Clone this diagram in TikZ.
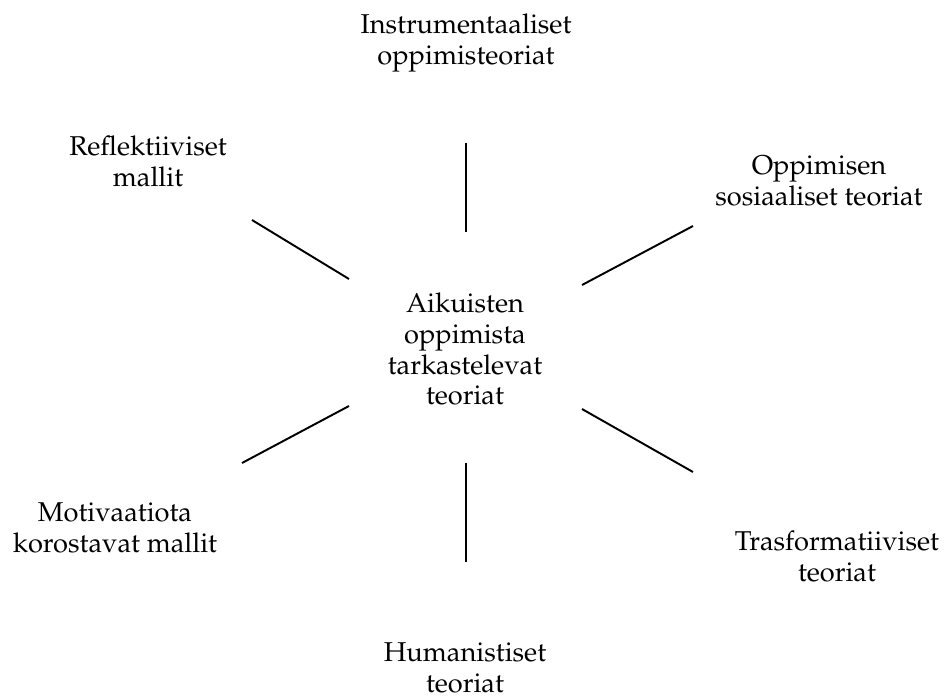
\documentclass[tikz,border=0pt]{standalone}
\usepackage[T1]{fontenc}
\usepackage{mathpazo}
\begin{document}
\begin{tikzpicture}[x=0.02cm,y=-0.02cm,
    label/.style={align=center,inner sep=0pt,font=\fontsize{15.5}{17.6}\selectfont},
    spoke/.style={line width=1.1pt}]
\useasboundingbox (0,0) rectangle (948,697);
% theory nodes
\node[label] (core) at (465,349) {Aikuisten\\oppimista\\tarkastelevat\\teoriat};
\node[label] (instr) at (466,43) {Instrumentaaliset\\oppimisteoriat};
\node[label] (refl) at (148,161) {Reflektiiviset\\mallit};
\node[label] (soc) at (819,181) {Oppimisen\\sosiaaliset teoriat};
\node[label] (motiv) at (115,528) {Motivaatiota\\korostavat mallit};
\node[label] (trans) at (837,556) {Trasformatiiviset\\teoriat};
\node[label] (hum) at (465,668) {Humanistiset\\teoriat};
% spoke end points
\coordinate (instrA) at (466,143); \coordinate (instrB) at (466,232);
\coordinate (reflA) at (252,220);  \coordinate (reflB) at (349,279);
\coordinate (socA) at (693,226);   \coordinate (socB) at (582,285);
\coordinate (motivA) at (242,463); \coordinate (motivB) at (349,406);
\coordinate (transA) at (693,472); \coordinate (transB) at (582,409);
\coordinate (humA) at (466,562);   \coordinate (humB) at (466,463);
% spokes
\draw[spoke] (instrA) -- (instrB);
\draw[spoke] (reflA) -- (reflB);
\draw[spoke] (socA) -- (socB);
\draw[spoke] (motivA) -- (motivB);
\draw[spoke] (transA) -- (transB);
\draw[spoke] (humA) -- (humB);
\end{tikzpicture}
\end{document}
